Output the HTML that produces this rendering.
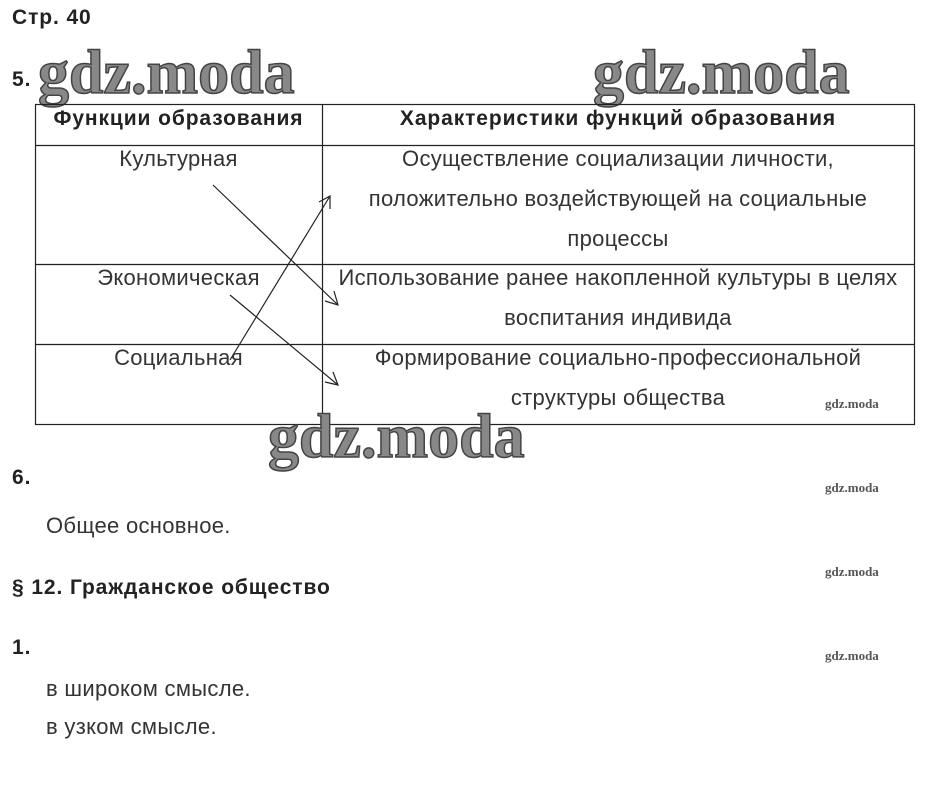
<!DOCTYPE html>
<html><head><meta charset="utf-8"><style>
body{margin:0;width:925px;height:788px;background:#fff;position:relative;font-family:"Liberation Sans",Arial,sans-serif;color:#222;overflow:hidden}
.a{position:absolute;white-space:nowrap}
.b{font-weight:bold;font-size:21px;letter-spacing:0.9px}
.t{font-size:22px;letter-spacing:0.3px;color:#333}
.wm{position:absolute;font-family:"Liberation Serif",serif;font-weight:bold;font-size:62px;color:#888;letter-spacing:0px;-webkit-text-stroke:1.5px #444;line-height:1}
.sm{position:absolute;font-family:"Liberation Serif",serif;font-weight:bold;font-size:13px;color:#555}
.c{position:absolute;text-align:center;font-size:22px;letter-spacing:0.3px;color:#333;line-height:40px;white-space:nowrap}
.h{font-weight:bold;font-size:21px;letter-spacing:0.9px;color:#222}
</style></head><body>
<div class="a b" style="left:12px;top:6px">Стр. 40</div>
<div class="a b" style="left:12px;top:68px">5.</div>
<div class="wm" style="left:38px;top:42px">gdz.moda</div>
<div class="wm" style="left:593px;top:42px">gdz.moda</div>
<svg style="position:absolute;left:0;top:0" width="925" height="788">
<g stroke="#222" stroke-width="1.2" fill="none">
<rect x="35.5" y="104.5" width="879" height="320"/>
<line x1="322.5" y1="104" x2="322.5" y2="424"/>
<line x1="35" y1="145.5" x2="914" y2="145.5"/>
<line x1="35" y1="264.5" x2="914" y2="264.5"/>
<line x1="35" y1="344.5" x2="914" y2="344.5"/>
<line x1="213" y1="185" x2="338" y2="305"/>
<polyline points="325,301 338,305 334,291"/>
<line x1="230" y1="360" x2="330" y2="196"/>
<polyline points="319,202 330,196 330,209"/>
<line x1="230" y1="295" x2="338" y2="385"/>
<polyline points="325,382 338,385 333,372"/>
</g></svg>
<div class="c h" style="left:35px;top:99px;width:287px">Функции образования</div>
<div class="c h" style="left:322px;top:99px;width:592px">Характеристики функций образования</div>
<div class="c" style="left:35px;top:139px;width:287px">Культурная</div>
<div class="c" style="left:35px;top:258px;width:287px">Экономическая</div>
<div class="c" style="left:35px;top:338px;width:287px">Социальная</div>
<div class="c" style="left:322px;top:139px;width:592px">Осуществление социализации личности,<br>положительно воздействующей на социальные<br>процессы</div>
<div class="c" style="left:322px;top:258px;width:592px">Использование ранее накопленной культуры в целях<br>воспитания индивида</div>
<div class="c" style="left:322px;top:338px;width:592px">Формирование социально-профессиональной<br>структуры общества</div>
<div class="wm" style="left:268px;top:406px">gdz.moda</div>
<div class="sm" style="left:825px;top:396px">gdz.moda</div>
<div class="a b" style="left:12px;top:466px">6.</div>
<div class="sm" style="left:825px;top:480px">gdz.moda</div>
<div class="a t" style="left:46px;top:513px">Общее основное.</div>
<div class="sm" style="left:825px;top:564px">gdz.moda</div>
<div class="a b" style="left:12px;top:576px">§ 12. Гражданское общество</div>
<div class="a b" style="left:12px;top:636px">1.</div>
<div class="sm" style="left:825px;top:648px">gdz.moda</div>
<div class="a t" style="left:46px;top:676px">в широком смысле.</div>
<div class="a t" style="left:46px;top:714px">в узком смысле.</div>
</body></html>
